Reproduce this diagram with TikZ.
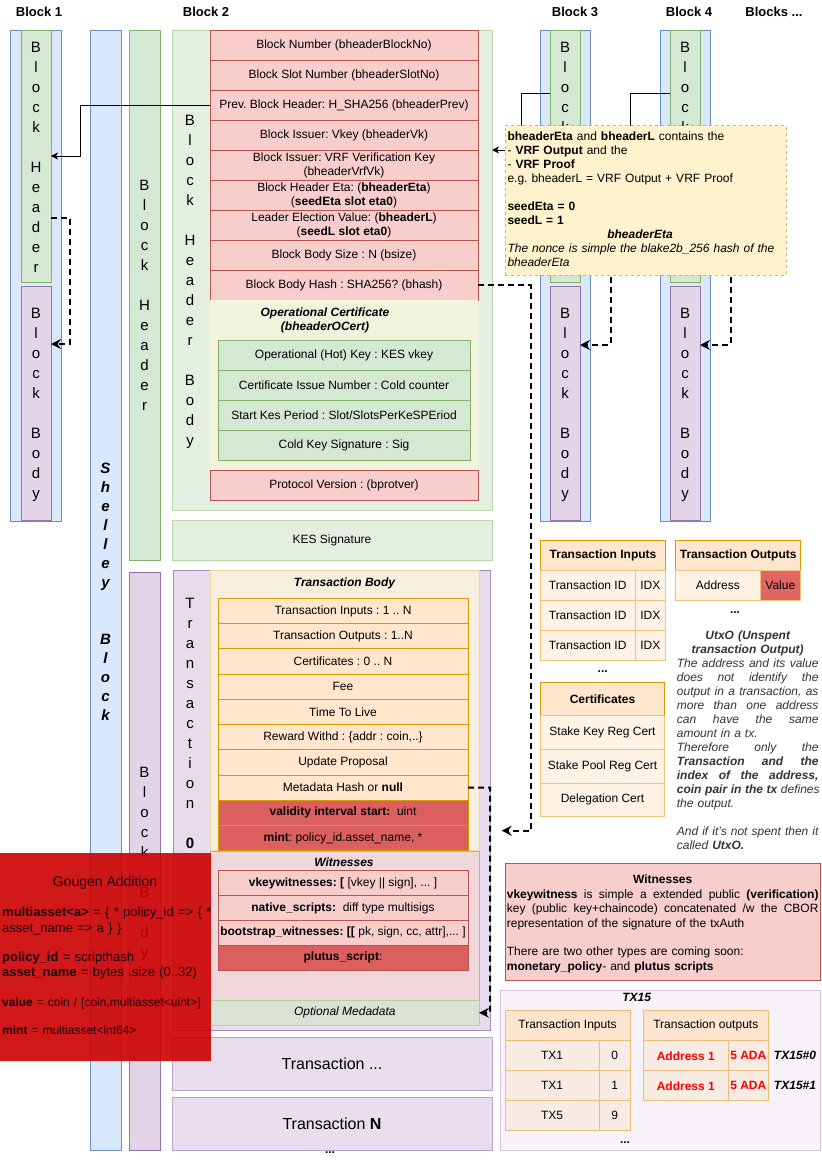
\documentclass[tikz,border=0pt]{standalone}
\usepackage{fontspec}
\setmainfont{Liberation Sans}
\usetikzlibrary{arrows.meta}
\definecolor{bluef}{HTML}{DAE8FC}\definecolor{bluel}{HTML}{6C8EBF}
\definecolor{greenf}{HTML}{D5E8D4}\definecolor{greenl}{HTML}{82B366}
\definecolor{purf}{HTML}{E1D5E7}\definecolor{purl}{HTML}{9673A6}
\definecolor{redf}{HTML}{F8CECC}\definecolor{redl}{HTML}{B85450}
\definecolor{orf}{HTML}{FFE6CC}\definecolor{orl}{HTML}{D79B00}
\definecolor{yelf}{HTML}{FFF2CC}\definecolor{yell}{HTML}{D6B656}
\definecolor{lgf}{HTML}{E4EFE1}\definecolor{lgl}{HTML}{B9D7AA}
\definecolor{ocf}{HTML}{F1F3DD}
\definecolor{txf}{HTML}{E6DCEC}\definecolor{txl}{HTML}{A78BBB}
\definecolor{tbf}{HTML}{F6EEDF}\definecolor{tbl}{HTML}{EDD6A4}
\definecolor{wcf}{HTML}{F0D7D9}\definecolor{wcl}{HTML}{D8A3A2}
\definecolor{mf}{HTML}{DAE2D6}\definecolor{ml}{HTML}{B4D1A1}
\definecolor{tx2f}{HTML}{E8DEEE}\definecolor{tx2l}{HTML}{B9A3CA}
\definecolor{trf}{HTML}{FFF3E6}\definecolor{trl}{HTML}{F0C37A}
\definecolor{t2f}{HTML}{F8EBE4}\definecolor{t2h}{HTML}{FCE4CE}\definecolor{t2l}{HTML}{E9BE78}
\definecolor{tx15f}{HTML}{F8F3F8}\definecolor{tx15l}{HTML}{D4C3DD}
\definecolor{darkred}{HTML}{DC5F5F}\definecolor{valf}{HTML}{E06666}
\definecolor{ggred}{HTML}{CC0000}
\definecolor{ggtxt}{HTML}{1E0000}
\definecolor{graytxt}{HTML}{333333}
\newcommand\pcell[7]{\node[#6, minimum width={(#4)-(#2)}, minimum height={(#5)-(#3)}] (#1) at ({((#2)+(#4))/2},{((#3)+(#5))/2}) {#7};}
\newcommand\jl[2]{\leavevmode\hbox to #1{\spaceskip=0.3em plus 1fil\xspaceskip=0.3em plus 1fil\relax #2}}
\tikzset{
 base/.style={rectangle, inner sep=0pt, outer sep=0pt, line width=1pt, align=center, font=\fontsize{12}{14}\selectfont, text=black},
 bluebox/.style={base, draw=bluel, fill=bluef},
 greenbox/.style={base, draw=greenl, fill=greenf},
 purbox/.style={base, draw=purl, fill=purf},
 hbbox/.style={base, draw=lgl, fill=lgf},
 redcell/.style={base, draw=redl, fill=redf},
 greencell/.style={base, draw=greenl, fill=greenf},
 ocbox/.style={base, fill=ocf},
 txbox/.style={base, draw=txl, fill=txf},
 tbbox/.style={base, draw=tbl, fill=tbf},
 orcell/.style={base, draw=orl, fill=orf},
 drcell/.style={base, draw=orl, fill=darkred},
 plcell/.style={base, draw=redl, fill=darkred},
 wcbox/.style={base, draw=wcl, fill=wcf},
 metabox/.style={base, draw=ml, fill=mf},
 tx2box/.style={base, draw=tx2l, fill=tx2f, font=\fontsize{16}{19}\selectfont},
 ggbox/.style={base, fill=ggred, fill opacity=0.9},
 notebox/.style={base, draw=yell, fill=yelf, dashed},
 thead/.style={base, draw=orl, fill=orf},
 trow/.style={base, draw=trl, fill=trf},
 valcell/.style={base, draw=trl, fill=valf},
 tx15box/.style={base, draw=tx15l, fill=tx15f},
 xhead/.style={base, draw=t2l, fill=t2h},
 xrow/.style={base, draw=t2l, fill=t2f},
 lbl/.style={inner sep=0pt, align=center, font=\fontsize{12}{14}\selectfont},
 bilbl/.style={lbl, font=\bfseries\itshape\fontsize{12}{14}\selectfont},
 hdr/.style={inner sep=0pt, font=\bfseries\fontsize{13}{15}\selectfont},
 vtext/.style={inner sep=0pt, align=center, anchor=north, font=\fontsize{15}{20}\selectfont},
 ggtext/.style={inner sep=0pt, anchor=north west, text width=250pt, align=left, text=ggtxt},
 dasharrow/.style={line width=2pt, dash pattern=on 6pt off 4pt, -{Stealth[length=10pt,width=10pt,inset=3.5pt]}},
 thinarrow/.style={line width=1pt, -{Stealth[length=7pt,width=7pt,inset=2pt]}},
}
\begin{document}
\frenchspacing
\begin{tikzpicture}[x=1pt,y=-1pt]
\fill[white] (0,0) rectangle (822,1160);
\useasboundingbox (0,0) rectangle (822,1160);

% headings
\node[hdr] (lb1) at (39,12) {Block 1};
\node[hdr] (lb2) at (206,12) {Block 2};
\node[hdr] (lb3) at (575,12) {Block 3};
\node[hdr] (lb4) at (689,12) {Block 4};
\node[hdr] (lb5) at (774,12) {Blocks ...};

% Block 1
\pcell{b1}{10}{30}{61}{521}{bluebox}{}
\pcell{b1h}{21}{30}{51}{282}{greenbox}{}
\node[vtext] (b1ht) at (36,41.6) {B\\l\\o\\c\\k\\~\\H\\e\\a\\d\\e\\r};
\pcell{b1b}{21}{286}{51}{520}{purbox}{}
\node[vtext] (b1bt) at (36,307.6) {B\\l\\o\\c\\k\\~\\B\\o\\d\\y};

% Shelley block
\pcell{shl}{90}{30}{121}{1150}{bluebox}{}
\node[vtext, font=\bfseries\itshape\fontsize{15}{19}\selectfont] (shlt) at (105.5,462.6) {S\\h\\e\\l\\l\\e\\y\\~\\~\\B\\l\\o\\c\\k};

% Block 2 columns
\pcell{b2h}{129}{30}{160}{560}{greenbox}{}
\node[vtext] (b2ht) at (144.5,179.6) {B\\l\\o\\c\\k\\~\\H\\e\\a\\d\\e\\r};
\pcell{b2b}{129}{572}{160}{1150}{purbox}{}
\node[vtext] (b2bt) at (144.5,766.6) {B\\l\\o\\c\\k\\~\\B\\o\\d\\y};

% Header body
\pcell{hb}{172}{30}{492}{510}{hbbox}{}
\node[vtext] (hbt) at (190,114.6) {B\\l\\o\\c\\k\\~\\H\\e\\a\\d\\e\\r\\~\\B\\o\\d\\y};
\pcell{f1}{210}{30}{478}{60}{redcell}{Block Number (bheaderBlockNo)}
\pcell{f2}{210}{60}{478}{90}{redcell}{Block Slot Number (bheaderSlotNo)}
\pcell{f3}{210}{90}{478}{120}{redcell}{Prev. Block Header: H\_SHA256 (bheaderPrev)}
\pcell{f4}{210}{120}{478}{150}{redcell}{Block Issuer: Vkey (bheaderVk)}
\pcell{f5}{210}{150}{478}{180}{redcell}{Block Issuer: VRF Verification Key\\(bheaderVrfVk)}
\pcell{f6}{210}{180}{478}{210}{redcell}{Block Header Eta: (\textbf{bheaderEta})\\(\textbf{seedEta slot eta0})}
\pcell{f7}{210}{210}{478}{240}{redcell}{Leader Election Value: (\textbf{bheaderL})\\(\textbf{seedL slot eta0})}
\pcell{f8}{210}{240}{478}{270}{redcell}{Block Body Size : N (bsize)}
\pcell{f9}{210}{270}{478}{300}{redcell}{Block Body Hash : SHA256? (bhash)}
\pcell{oc}{210}{300}{478}{470}{ocbox}{}
\node[bilbl] (oct) at (325,320) {Operational Certificate\\(bheaderOCert)};
\pcell{o1}{218}{340}{470}{370}{greencell}{Operational (Hot) Key : KES vkey}
\pcell{o2}{218}{370}{470}{400}{greencell}{Certificate Issue Number : Cold counter}
\pcell{o3}{218}{400}{470}{430}{greencell}{Start Kes Period : Slot/SlotsPerKeSPEriod}
\pcell{o4}{218}{430}{470}{460}{greencell}{Cold Key Signature : Sig}
\pcell{pv}{210}{470}{478}{500}{redcell}{Protocol Version : (bprotver)}
\pcell{kes}{172}{520}{492}{560}{hbbox}{KES Signature}

% Transaction 0
\pcell{tx0}{173}{570}{490.7}{1030}{txbox}{}
\node[vtext] (tx0t) at (190,597.9) {T\\r\\a\\n\\s\\a\\c\\t\\i\\o\\n\\~\\\textbf{0}};
\pcell{tb}{210}{570}{479}{850.7}{tbbox}{}
\node[bilbl] (tbt) at (344.5,583) {Transaction Body};
\pcell{t1}{218}{598.3}{468}{623.5}{orcell}{Transaction Inputs : 1 .. N}
\pcell{t2}{218}{623.5}{468}{648.8}{orcell}{Transaction Outputs : 1..N}
\pcell{t3}{218}{648.8}{468}{674.0}{orcell}{Certificates : 0 .. N}
\pcell{t4}{218}{674.0}{468}{699.3}{orcell}{Fee}
\pcell{t5}{218}{699.3}{468}{724.5}{orcell}{Time To Live}
\pcell{t6}{218}{724.5}{468}{749.7}{orcell}{Reward Withd : \{addr : coin,..\}}
\pcell{t7}{218}{749.7}{468}{775.0}{orcell}{Update Proposal}
\pcell{t8}{218}{775.0}{468}{800.2}{orcell}{Metadata Hash or \textbf{null}}
\pcell{t9}{218}{800.2}{468}{825.5}{drcell}{\textbf{validity interval start:}\ \ uint}
\pcell{t10}{218}{825.5}{468}{850.7}{drcell}{\textbf{mint}: policy\_id.asset\_name, *}
\pcell{wc}{210.7}{851}{479}{1000.7}{wcbox}{}
\node[bilbl] (wct) at (344,862) {Witnesses};
\pcell{w1}{218}{870.7}{468}{895.5}{redcell}{\textbf{vkeywitnesses: [} [vkey || sign], ... ]}
\pcell{w2}{218}{895.5}{468}{920.3}{redcell}{\textbf{native\_scripts:}\ \ diff type multisigs}
\pcell{w3}{218}{920.3}{468}{945.3}{redcell}{\textbf{bootstrap\_witnesses: [[} pk, sign, cc, attr],... ]}
\pcell{w4}{218}{945.3}{468}{970.3}{plcell}{\textbf{plutus\_script}:}
\pcell{meta}{210.7}{1000.7}{479}{1025}{metabox}{\itshape Optional Medadata}
\pcell{txd}{172}{1037}{492}{1090}{tx2box}{Transaction ...}
\pcell{txn}{172}{1097}{492}{1150}{tx2box}{Transaction \textbf{N}}
\node[lbl] (dots1) at (330,1153) {\textbf{...}};

% Gougen addition
\pcell{gg}{0}{852.7}{210.7}{1060.7}{ggbox}{}
\node[inner sep=0pt, text=ggtxt, font=\fontsize{14}{16}\selectfont] (ggt) at (105,883) {Gougen Addition};
\node[ggtext, font=\fontsize{13}{15.6}\selectfont] (ggx) at (2,905.8) {\strut\textbf{multiasset<a>} = \{ * policy\_id => \{ *\\
asset\_name => a \} \}\\[13pt]
\textbf{policy\_id} = scripthash\\
\textbf{asset\_name} = bytes .size (0..32)};
\node[ggtext, font=\fontsize{12}{14}\selectfont] (ggy) at (2,996.3) {\strut\textbf{value} = coin / [coin,multiasset<uint>]\\[14pt]
\textbf{mint} = multiasset<int64>};

% Blocks 3 and 4
\pcell{b3}{540}{30}{590}{521}{bluebox}{}
\pcell{b3h}{550}{30}{580}{282}{greenbox}{}
\node[vtext] (b3ht) at (565,41.6) {B\\l\\o\\c\\k\\~\\H\\e\\a\\d\\e\\r};
\pcell{b3b}{550}{286}{580}{520}{purbox}{}
\node[vtext] (b3bt) at (565,307.6) {B\\l\\o\\c\\k\\~\\B\\o\\d\\y};
\pcell{b4}{660}{30}{710}{521}{bluebox}{}
\pcell{b4h}{670}{30}{700}{282}{greenbox}{}
\node[vtext] (b4ht) at (685,41.6) {B\\l\\o\\c\\k\\~\\H\\e\\a\\d\\e\\r};
\pcell{b4b}{670}{286}{700}{520}{purbox}{}
\node[vtext] (b4bt) at (685,307.6) {B\\l\\o\\c\\k\\~\\B\\o\\d\\y};

% connectors
\draw[thinarrow] (f3.west) -- (80,105) -- (80,156) -- (b1h.east |- 0,156);
\draw[thinarrow] (b3h.west |- 0,93) -- (521,93) -- (521,150) -- (hb.east |- 0,150);
\draw[thinarrow] (b4h.west |- 0,93) -- (630,93) -- (630,150) -- (b3h.east |- 0,150);
\draw[dasharrow] (b1h.east |- 0,218) -- (70,218) -- (70,344) -- (b1b.east |- 0,344);
\draw[dasharrow] (b3h.east |- 0,218) -- (610.7,218) -- (610.7,345) -- (b3b.east |- 0,345);
\draw[dasharrow] (b4h.east |- 0,218) -- (730.7,218) -- (730.7,345) -- (b4b.east |- 0,345);
\coordinate (hashend) at (501.7,830.7);
\draw[dasharrow] (f9.east) -- (530.5,285) -- (530.5,830.7) -- (hashend);
\draw[dasharrow] (t8.east) -- (490,787.6) -- (490,1012.8) -- (meta.east);

% note
\pcell{note}{505}{125.7}{786}{275}{notebox}{}
\node[inner sep=0pt, anchor=north west, text width=276pt, align=left, font=\fontsize{12}{14}\selectfont] (notet) at (507.3,130.6) {\strut\textbf{bheaderEta} and \textbf{bheaderL} contains the\\
- \textbf{VRF Output} and the\\
- \textbf{VRF Proof}\\
e.g. bheaderL = VRF Output + VRF Proof\\
~\\
\textbf{seedEta = 0}\\
\textbf{seedL = 1}\\
\makebox[265pt][c]{\textbf{\textit{bheaderEta}}}\\
\textit{The nonce is simple the blake2b\_256 hash of the}\\
\textit{bheaderEta}};

% right tables
\pcell{ti}{540.3}{540}{665.7}{570.7}{thead}{\textbf{Transaction Inputs}}
\pcell{ti1a}{540.3}{570.7}{635}{600.7}{trow}{Transaction ID}
\pcell{ti1b}{635}{570.7}{665.7}{600.7}{trow}{IDX}
\pcell{ti2a}{540.3}{600.7}{635}{630.7}{trow}{Transaction ID}
\pcell{ti2b}{635}{600.7}{665.7}{630.7}{trow}{IDX}
\pcell{ti3a}{540.3}{630.7}{635}{660.7}{trow}{Transaction ID}
\pcell{ti3b}{635}{630.7}{665.7}{660.7}{trow}{IDX}
\node[lbl] (tidots) at (602.7,671.7) {\textbf{...}};
\pcell{ce}{540.3}{682.7}{664.7}{715.7}{thead}{\textbf{Certificates}}
\pcell{ce1}{540.3}{715.7}{664.7}{749.3}{trow}{Stake Key Reg Cert}
\pcell{ce2}{540.3}{749.3}{664.7}{783}{trow}{Stake Pool Reg Cert}
\pcell{ce3}{540.3}{783}{664.7}{816}{trow}{Delegation Cert}
\pcell{to}{675.7}{540}{800.7}{570.7}{thead}{\textbf{Transaction Outputs}}
\pcell{to1a}{675.7}{570.7}{760}{600.7}{trow}{Address}
\pcell{to1b}{760}{570.7}{800.7}{600.7}{valcell}{Value}
\node[lbl] (todots) at (735,613) {\textbf{...}};
\node[inner sep=0pt, anchor=north west, text width=141.6pt, align=left, text=graytxt, font=\itshape\fontsize{12}{14}\selectfont] (utxo) at (676.7,629.3) {\strut\makebox[141.6pt][c]{\textbf{UtxO (Unspent}}\\
\makebox[141.6pt][c]{\textbf{transaction Output)}}\\
\jl{141.6pt}{The address and its value}\\
\jl{141.6pt}{does not identify the}\\
\jl{141.6pt}{output in a transaction, as}\\
\jl{141.6pt}{more than one address}\\
\jl{141.6pt}{can have the same}\\
amount in a tx.\\
\jl{141.6pt}{Therefore only the}\\
\jl{141.6pt}{\textbf{Transaction and the}}\\
\jl{141.6pt}{\textbf{index of the address,}}\\
\jl{141.6pt}{\textbf{coin pair in the tx} defines}\\
the output.\\
~\\
\jl{141.6pt}{And if it's not spent then it}\\
called \textbf{UtxO.}};

% witnesses note
\pcell{wn}{505.7}{863.3}{820.7}{980}{redcell}{}
\node[inner sep=0pt, anchor=north west, text width=311.6pt, align=left, font=\fontsize{12}{14.4}\selectfont] (wnt) at (506.7,873.7) {\strut\makebox[311.6pt][c]{\textbf{Witnesses}}\\
\jl{311.6pt}{\textbf{vkeywitness} is simple a extended public \textbf{(verification)}}\\
\jl{311.6pt}{key (public key+chaincode) concatenated /w the CBOR}\\
representation of the signature of the txAuth\\
~\\
There are two other types are coming soon:\\
\textbf{monetary\_policy}- and \textbf{plutus scripts}};

% TX15
\pcell{tx15}{500}{990.7}{820.7}{1150.7}{tx15box}{}
\node[bilbl] (tx15t) at (636.7,997.3) {TX15};
\pcell{xi}{505}{1010.7}{630}{1040.7}{xhead}{Transaction Inputs}
\pcell{xi1a}{505}{1040.7}{599.3}{1070.7}{xrow}{TX1}
\pcell{xi1b}{599.3}{1040.7}{630}{1070.7}{xrow}{0}
\pcell{xi2a}{505}{1070.7}{599.3}{1100.7}{xrow}{TX1}
\pcell{xi2b}{599.3}{1070.7}{630}{1100.7}{xrow}{1}
\pcell{xi3a}{505}{1100.7}{599.3}{1130.7}{xrow}{TX5}
\pcell{xi3b}{599.3}{1100.7}{630}{1130.7}{xrow}{9}
\node[lbl] (xidots) at (625,1143) {\textbf{...}};
\pcell{xo}{643.3}{1010.7}{768.3}{1040.7}{xhead}{Transaction outputs}
\pcell{xo1a}{643.3}{1040.7}{728.3}{1070.7}{xrow, text=red}{\textbf{Address 1}}
\pcell{xo1b}{728.3}{1040.7}{768.3}{1070.7}{xrow, text=red}{\textbf{5 ADA}}
\pcell{xo2a}{643.3}{1070.7}{728.3}{1100.7}{xrow, text=red}{\textbf{Address 1}}
\pcell{xo2b}{728.3}{1070.7}{768.3}{1100.7}{xrow, text=red}{\textbf{5 ADA}}
\node[bilbl] (xl0) at (795,1055.7) {TX15\#0};
\node[bilbl] (xl1) at (795,1085.7) {TX15\#1};
\end{tikzpicture}
\end{document}
